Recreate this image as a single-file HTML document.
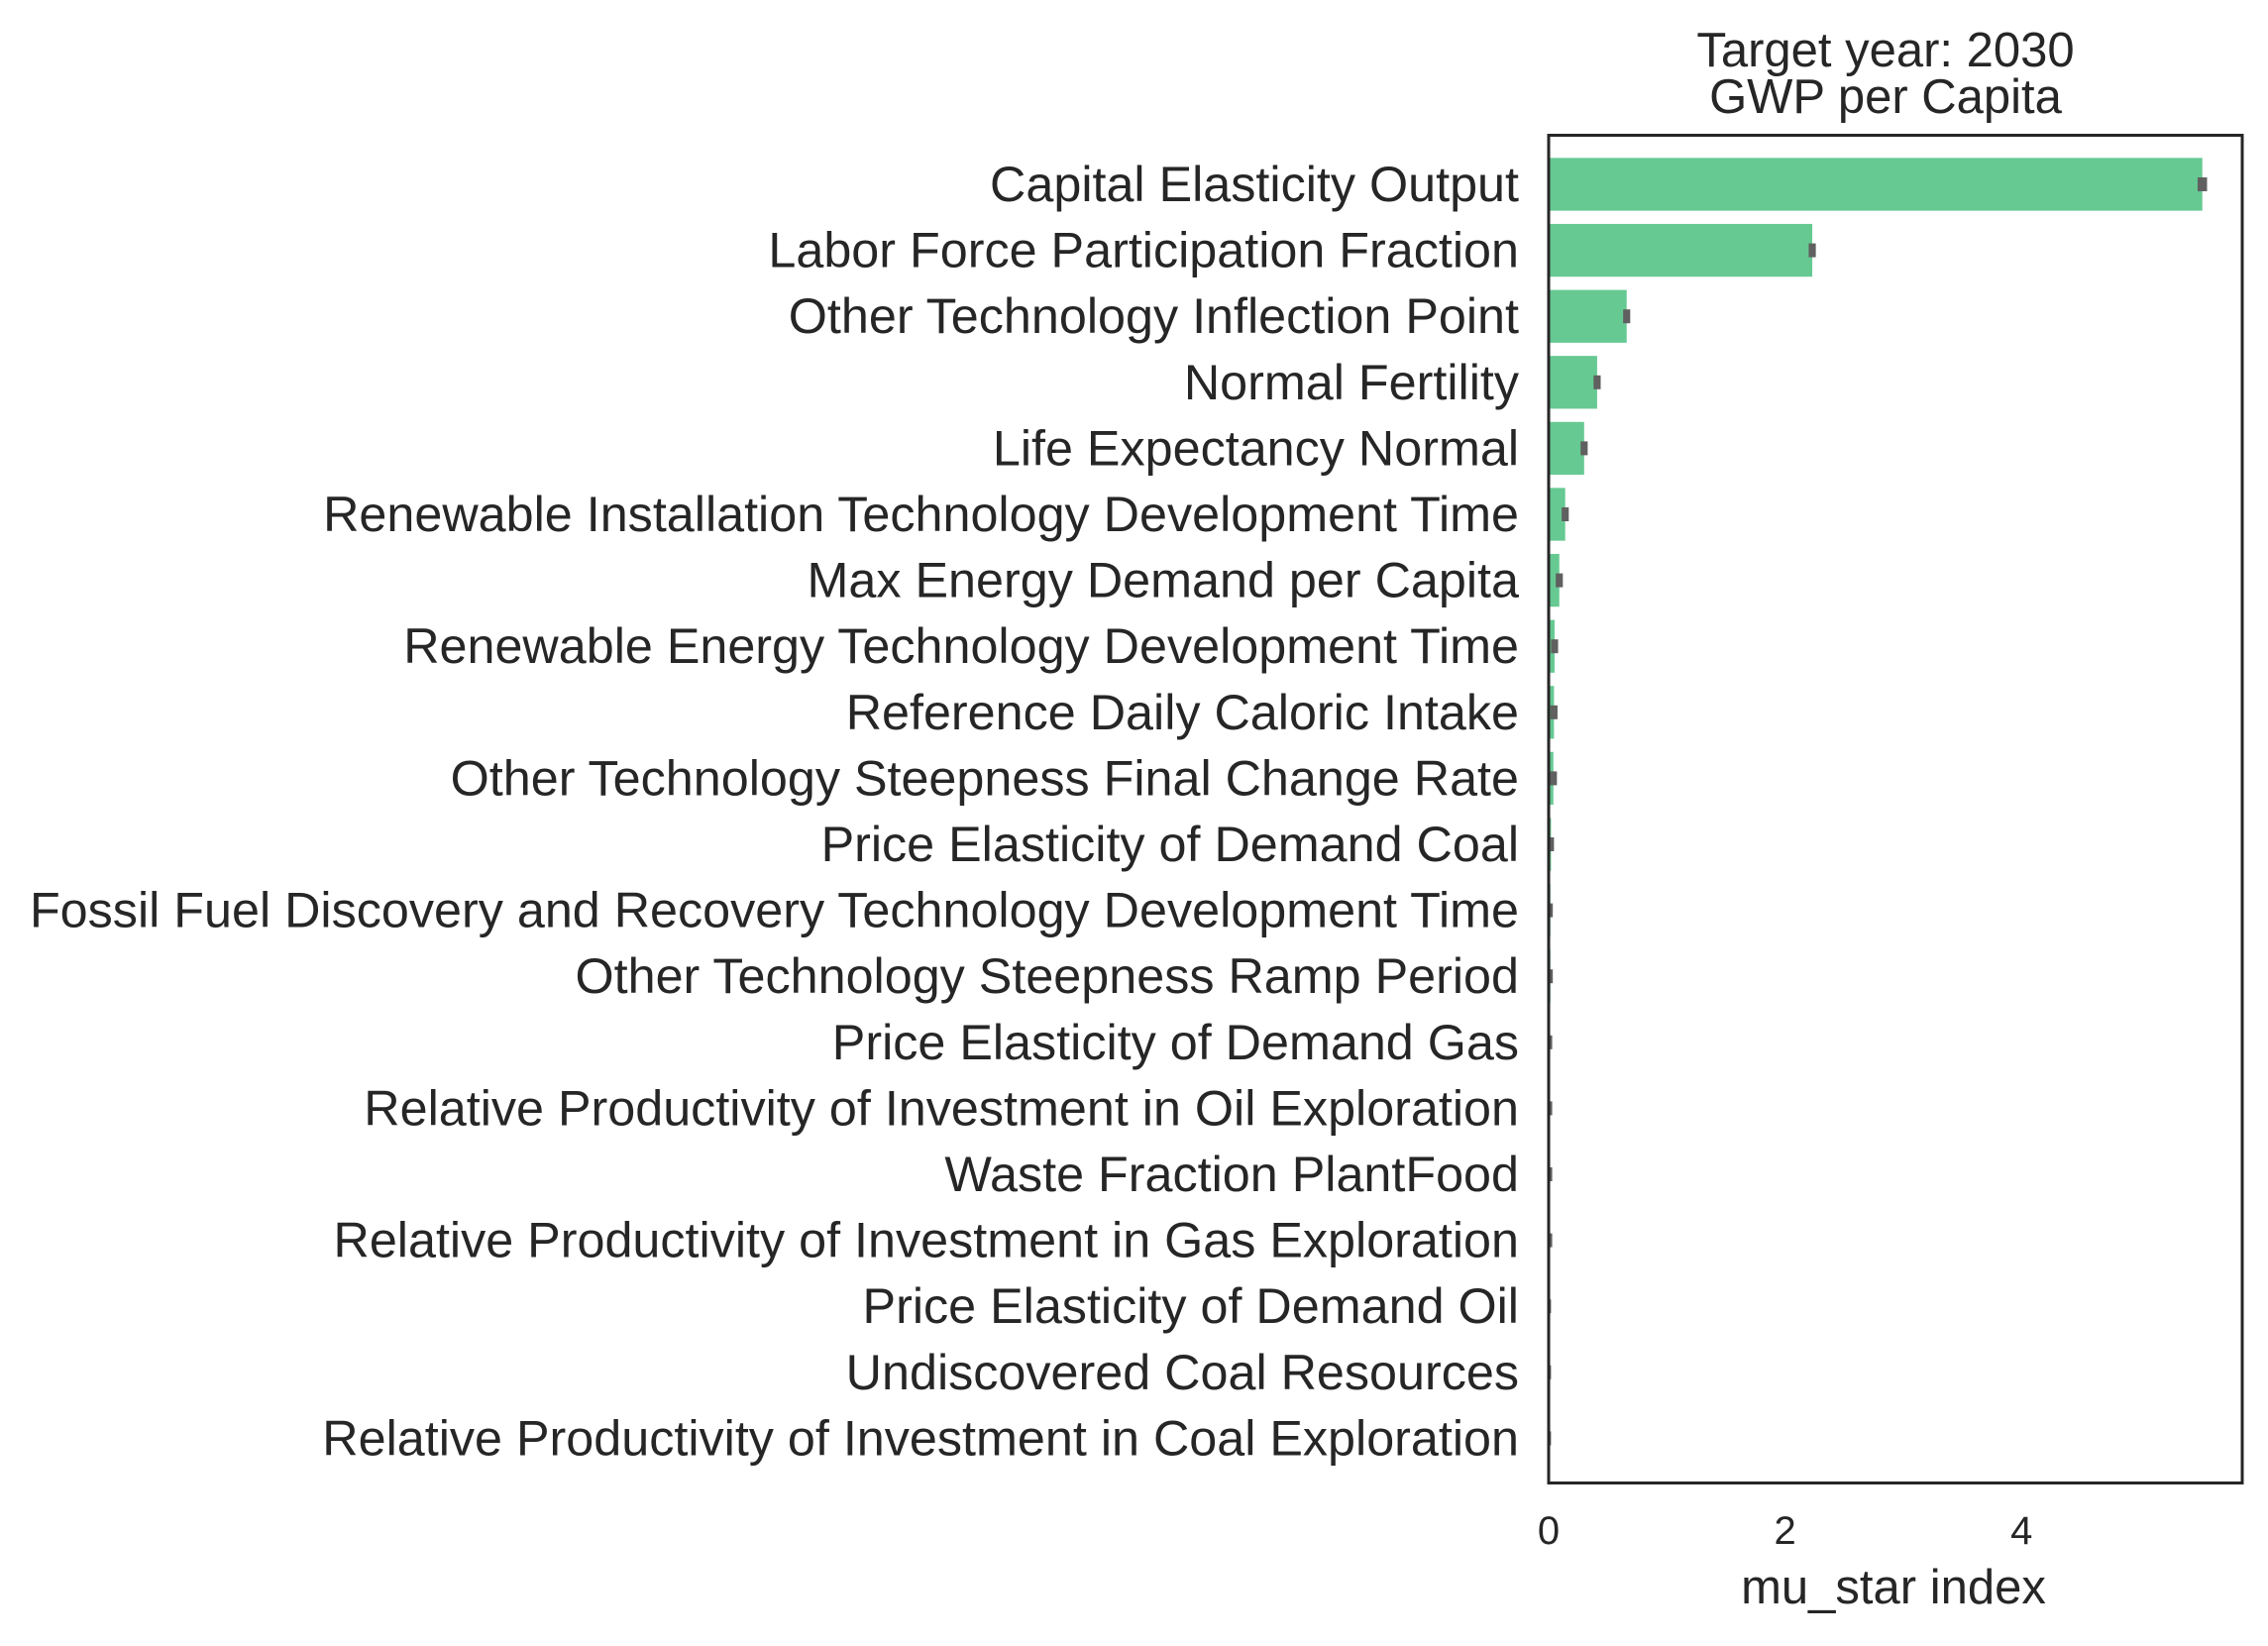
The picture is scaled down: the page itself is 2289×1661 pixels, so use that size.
<!DOCTYPE html>
<html><head><meta charset="utf-8"><style>
body{margin:0;background:#fff;}
svg text{font-family:"Liberation Sans",sans-serif;fill:#262626;}
</style></head><body>
<svg id="chart" width="2289" height="1656" xmlns="http://www.w3.org/2000/svg">
<rect width="2289" height="1656" fill="#fff"/>
<text x="1903" y="67" font-size="49" text-anchor="middle">Target year: 2030</text>
<text x="1903" y="114" font-size="49" text-anchor="middle">GWP per Capita</text>
<g id="bars"></g>
<g id="ylabels"></g>
<g id="xticks"></g>
<rect x="1563" y="136.5" width="700" height="1360" fill="none" stroke="#262626" stroke-width="3"/>
<text x="1911" y="1618" font-size="49" text-anchor="middle">mu_star index</text>
</svg>
<script>
const categories = ["Capital Elasticity Output","Labor Force Participation Fraction","Other Technology Inflection Point","Normal Fertility","Life Expectancy Normal","Renewable Installation Technology Development Time","Max Energy Demand per Capita","Renewable Energy Technology Development Time","Reference Daily Caloric Intake","Other Technology Steepness Final Change Rate","Price Elasticity of Demand Coal","Fossil Fuel Discovery and Recovery Technology Development Time","Other Technology Steepness Ramp Period","Price Elasticity of Demand Gas","Relative Productivity of Investment in Oil Exploration","Waste Fraction PlantFood","Relative Productivity of Investment in Gas Exploration","Price Elasticity of Demand Oil","Undiscovered Coal Resources","Relative Productivity of Investment in Coal Exploration"];
const muStar = [5.53,2.23,0.66,0.41,0.30,0.14,0.09,0.05,0.045,0.04,0.02,0.015,0.015,0.01,0.01,0.01,0.01,0.005,0.005,0.005];
const muStarConf = [0.04,0.03,0.03,0.03,0.03,0.03,0.03,0.03,0.03,0.03,0.025,0.02,0.02,0.02,0.02,0.02,0.02,0.015,0.015,0.015];
const xTicks = [0,2,4];
const NS="http://www.w3.org/2000/svg";
const x0=1563, xUnit=119.3, rowH=66.6, yFirst=186;
const xs=v=>x0+v*xUnit;
const ys=i=>yFirst+i*rowH;
const bars=document.getElementById('bars'), yl=document.getElementById('ylabels'), xt=document.getElementById('xticks');
categories.forEach((c,i)=>{
  const r=document.createElementNS(NS,'rect');
  
  
  const bh=rowH*0.8;
  r.setAttribute('x',x0);r.setAttribute('y',ys(i)-bh/2);
  r.setAttribute('width',Math.max(0,xs(muStar[i])-x0));r.setAttribute('height',bh);
  r.setAttribute('fill','#66c992');
  bars.appendChild(r);
  const e=document.createElementNS(NS,'line');
  
  
  e.setAttribute('x1',xs(muStar[i]-muStarConf[i]));e.setAttribute('x2',xs(muStar[i]+muStarConf[i]));
  e.setAttribute('y1',ys(i));e.setAttribute('y2',ys(i));
  e.setAttribute('stroke','#606060');e.setAttribute('stroke-width','14');
  bars.appendChild(e);
  const t=document.createElementNS(NS,'text');
  
  
  t.setAttribute('x',1533);t.setAttribute('y',ys(i)+17);
  t.setAttribute('font-size','50.3');t.setAttribute('text-anchor','end');
  t.textContent=c;yl.appendChild(t);
});
xTicks.forEach(v=>{
  const t=document.createElementNS(NS,'text');
  
  
  t.setAttribute('x',xs(v));t.setAttribute('y',1558);
  t.setAttribute('font-size','40');t.setAttribute('text-anchor','middle');
  t.textContent=v;xt.appendChild(t);
});
</script>
</body></html>
